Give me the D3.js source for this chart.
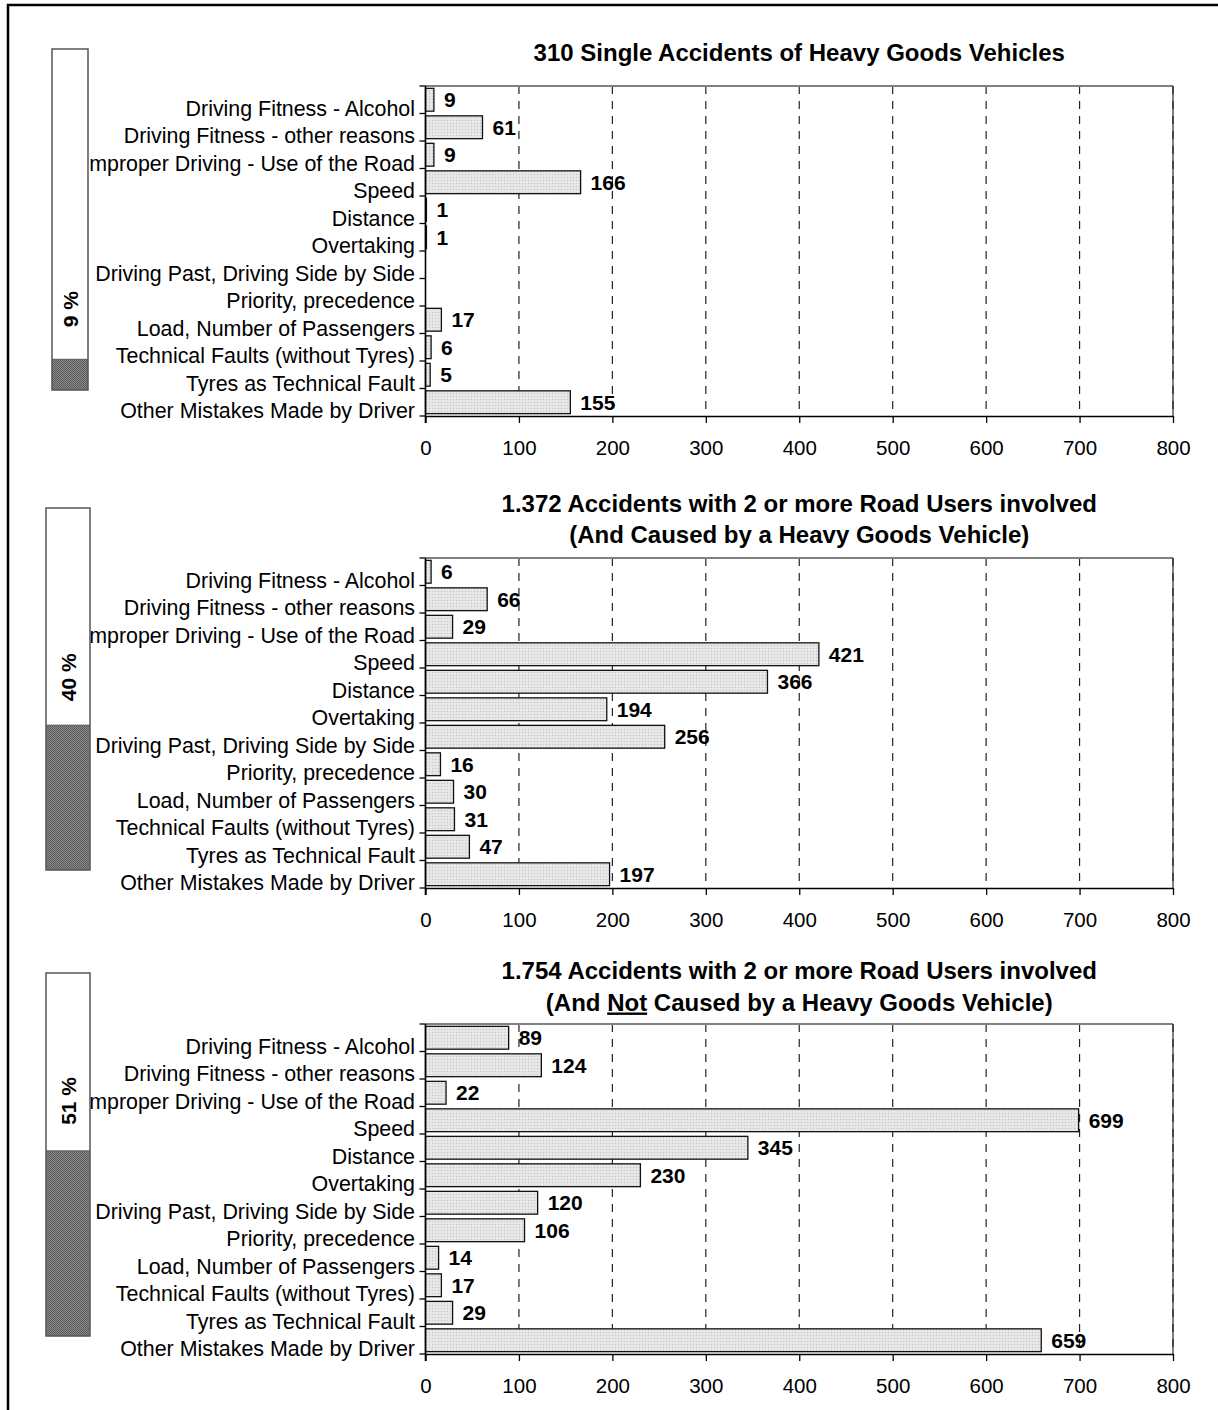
<!DOCTYPE html>
<html>
<head>
<meta charset="utf-8">
<script src="https://cdn.jsdelivr.net/npm/d3@7"></script>
<style>
  html, body { margin: 0; padding: 0; background: #fff; }
  svg { display: block; font-family: "Liberation Sans", Arial, sans-serif; }
</style>
</head>
<body>
<svg id="chart" width="1218" height="1410"></svg>
<script>
// ---------- DATA ----------
const categories = [
  "Driving Fitness - Alcohol",
  "Driving Fitness - other reasons",
  "Improper Driving - Use of the Road",
  "Speed",
  "Distance",
  "Overtaking",
  "Driving Past, Driving Side by Side",
  "Priority, precedence",
  "Load, Number of Passengers",
  "Technical Faults (without Tyres)",
  "Tyres as Technical Fault",
  "Other Mistakes Made by Driver"
];
const singleAccidents   = [9, 61, 9, 166, 1, 1, 0, 0, 17, 6, 5, 155];
const causedByHGV       = [6, 66, 29, 421, 366, 194, 256, 16, 30, 31, 47, 197];
const notCausedByHGV    = [89, 124, 22, 699, 345, 230, 120, 106, 14, 17, 29, 659];
const sharePercent      = [9, 40, 51];
const shareLabels       = ["9 %", "40 %", "51 %"];
const xTickValues       = [0, 100, 200, 300, 400, 500, 600, 700, 800];
const titleSingle       = ["310 Single Accidents of Heavy Goods Vehicles"];
const titleCaused       = ["1.372 Accidents with 2 or more Road Users involved", "(And Caused by a Heavy Goods Vehicle)"];
const titleNotCaused    = ["1.754 Accidents with 2 or more Road Users involved", ["(And ", "Not", " Caused by a Heavy Goods Vehicle)"]];

// ---------- LAYOUT ----------
const panels = [
  { values: singleAccidents, title: titleSingle, top: 86, titleBase: [61],
    ind: { x: 52, w: 36, y: 49, h: 341 }, pct: sharePercent[0], pctLabel: shareLabels[0], pctGap: 32 },
  { values: causedByHGV, title: titleCaused, top: 558, titleBase: [511.5, 543],
    ind: { x: 46, w: 44, y: 508, h: 362 }, pct: sharePercent[1], pctLabel: shareLabels[1], pctGap: 24 },
  { values: notCausedByHGV, title: titleNotCaused, top: 1024, titleBase: [979, 1010.5],
    ind: { x: 46, w: 44, y: 973, h: 363 }, pct: sharePercent[2], pctLabel: shareLabels[2], pctGap: 26 }
];
const plotLeft = 425.5, plotRight = 1173, plotHeight = 330;

const svg = d3.select("#chart");

// patterns
const defs = svg.append("defs");
const pLight = defs.append("pattern").attr("id", "light").attr("width", 3).attr("height", 3)
  .attr("patternUnits", "userSpaceOnUse");
pLight.append("rect").attr("width", 3).attr("height", 3).attr("fill", "#e4e4e4");
pLight.append("rect").attr("x", 0).attr("y", 0).attr("width", 1).attr("height", 1).attr("fill", "#c4c4c4");
pLight.append("rect").attr("x", 1.5).attr("y", 1.5).attr("width", 1).attr("height", 1).attr("fill", "#f4f4f4");
const pDark = defs.append("pattern").attr("id", "dark").attr("width", 2).attr("height", 2)
  .attr("patternUnits", "userSpaceOnUse");
pDark.append("rect").attr("width", 2).attr("height", 2).attr("fill", "#8a8a8a");
pDark.append("rect").attr("x", 0).attr("y", 0).attr("width", 1).attr("height", 1).attr("fill", "#5a5a5a");
pDark.append("rect").attr("x", 1).attr("y", 1).attr("width", 1).attr("height", 1).attr("fill", "#5a5a5a");

// outer frame
svg.append("rect").attr("x", 8).attr("y", 5).attr("width", 1400).attr("height", 1600)
  .attr("fill", "none").attr("stroke", "#000").attr("stroke-width", 2.5);

const x = d3.scaleLinear().domain([0, 800]).range([plotLeft, plotRight]);

panels.forEach(p => {
  const g = svg.append("g");
  const bottom = p.top + plotHeight;
  const y = d3.scaleBand().domain(categories).range([p.top, bottom])
    .paddingInner(0.17).paddingOuter(0.085);
  const step = y.step();

  // title
  p.title.forEach((line, i) => {
    const t = g.append("text")
      .attr("x", (plotLeft + plotRight) / 2)
      .attr("y", p.titleBase[i])
      .attr("text-anchor", "middle")
      .attr("font-size", "24px")
      .attr("font-weight", "bold")
      .attr("fill", "#000");
    if (Array.isArray(line)) {
      line.forEach((part, k) => {
        const ts = t.append("tspan").text(part);
        if (k === 1) ts.style("text-decoration", "underline");
      });
    } else {
      t.text(line);
    }
  });

  // gridlines
  g.selectAll(".grid").data(xTickValues.filter(v => v > 0 && v < 800)).join("line")
    .attr("x1", d => x(d)).attr("x2", d => x(d))
    .attr("y1", p.top).attr("y2", bottom)
    .attr("stroke", "#222").attr("stroke-width", 1.2).attr("stroke-dasharray", "8,7");

  // plot frame (top and right, gray)
  g.append("line").attr("x1", plotLeft).attr("x2", plotRight).attr("y1", p.top).attr("y2", p.top)
    .attr("stroke", "#808080").attr("stroke-width", 2);
  g.append("line").attr("x1", plotRight).attr("x2", plotRight).attr("y1", p.top).attr("y2", bottom)
    .attr("stroke", "#808080").attr("stroke-width", 2);
  g.append("line").attr("x1", plotRight).attr("x2", plotRight).attr("y1", p.top).attr("y2", bottom)
    .attr("stroke", "#222").attr("stroke-width", 1.2).attr("stroke-dasharray", "8,7");

  // category labels
  g.selectAll(".cat").data(categories).join("text")
    .attr("x", 415)
    .attr("y", d => y(d) - step * 0.085 + step + 2)
    .attr("text-anchor", "end")
    .attr("font-size", "21.4px")
    .attr("fill", "#000")
    .text(d => d);

  // bars
  g.selectAll(".bar").data(p.values.map((v, i) => ({ v, c: categories[i] })).filter(d => d.v > 0)).join("rect")
    .attr("x", x(0))
    .attr("y", d => y(d.c))
    .attr("width", d => x(d.v) - x(0))
    .attr("height", y.bandwidth())
    .attr("fill", "url(#light)")
    .attr("stroke", "#111")
    .attr("stroke-width", 1.3);

  // value labels
  g.selectAll(".val").data(p.values.map((v, i) => ({ v, c: categories[i] })).filter(d => d.v > 0)).join("text")
    .attr("x", d => x(d.v) + 10)
    .attr("y", d => y(d.c) + y.bandwidth() / 2 + 7.5)
    .attr("font-size", "21px")
    .attr("font-weight", "bold")
    .attr("fill", "#000")
    .text(d => d.v);

  // x axis
  const xAxis = d3.axisBottom(x).tickValues(xTickValues).tickSize(7).tickSizeOuter(0).tickFormat(d3.format("d"));
  const ax = g.append("g").attr("transform", `translate(0,${bottom})`).call(xAxis);
  ax.select(".domain").attr("stroke", "#000").attr("stroke-width", 1.6);
  ax.selectAll(".tick line").attr("stroke", "#000").attr("stroke-width", 1.3);
  ax.selectAll(".tick text").attr("y", 39).attr("dy", 0)
    .attr("font-size", "20.5px").attr("font-family", "Liberation Sans, Arial, sans-serif").attr("fill", "#000");

  // y axis line and ticks at band boundaries
  g.append("line").attr("x1", plotLeft).attr("x2", plotLeft).attr("y1", p.top).attr("y2", bottom + 7)
    .attr("stroke", "#000").attr("stroke-width", 1.6);
  const boundaries = categories.map(c => y(c) - step * 0.085).concat([bottom]);
  g.selectAll(".ytick").data(boundaries).join("line")
    .attr("x1", plotLeft - 6).attr("x2", plotLeft)
    .attr("y1", d => d).attr("y2", d => d)
    .attr("stroke", "#000").attr("stroke-width", 1.3);

  // share indicator (drawn over labels)
  const ys = d3.scaleLinear().domain([0, 100]).range([0, p.ind.h]);
  const darkH = ys(p.pct);
  g.append("rect").attr("x", p.ind.x).attr("y", p.ind.y).attr("width", p.ind.w).attr("height", p.ind.h)
    .attr("fill", "#fff").attr("stroke", "none");
  g.append("rect").attr("x", p.ind.x).attr("y", p.ind.y + p.ind.h - darkH).attr("width", p.ind.w).attr("height", darkH)
    .attr("fill", "url(#dark)").attr("stroke", "none");
  g.append("line").attr("x1", p.ind.x).attr("x2", p.ind.x + p.ind.w)
    .attr("y1", p.ind.y + p.ind.h - darkH).attr("y2", p.ind.y + p.ind.h - darkH)
    .attr("stroke", "#555").attr("stroke-width", 1);
  g.append("rect").attr("x", p.ind.x).attr("y", p.ind.y).attr("width", p.ind.w).attr("height", p.ind.h)
    .attr("fill", "none").attr("stroke", "#555").attr("stroke-width", 1.5);
  const lx = p.ind.x + p.ind.w / 2 + 7.5;
  const ly = p.ind.y + p.ind.h - darkH - p.pctGap;
  g.append("text")
    .attr("transform", `translate(${lx},${ly}) rotate(-90)`)
    .attr("font-size", "21px").attr("font-weight", "bold").attr("fill", "#000")
    .text(p.pctLabel);
});
</script>
</body>
</html>
